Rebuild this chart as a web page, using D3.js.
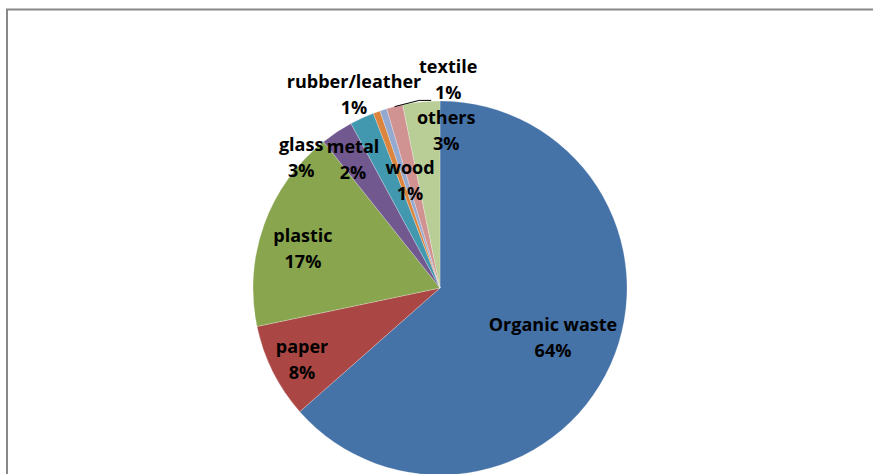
<!DOCTYPE html>
<html><head><meta charset="utf-8">
<script src="https://cdn.jsdelivr.net/npm/d3@7"></script>
<style>body{margin:0;background:#fff}svg{display:block}</style>
</head><body>
<svg id="c" width="873" height="474"></svg>
<script>
// Data
const categories = ["Organic waste","paper","plastic","glass","metal","rubber/leather","wood","textile","others"];
const values = [63.5, 8.2, 17.6, 2.8, 2.1, 0.6, 0.6, 1.4, 3.2];
const percentLabels = ["64%","8%","17%","3%","2%","1%","1%","1%","3%"];
const colors = ["#4572A7","#AA4643","#89A54E","#71588F","#4198AF","#DB843D","#93A9CF","#D19392","#B9CD96"];

// Label layout: [radius factor, angle offset in degrees]
const labelLayout = [[0.661,-0.4],[0.833,-1.0],[0.762,-3.9],[1.019,-13.3],[0.828,-9.5],[1.13,-4.2],[0.594,2],[1.111,16.3],[0.840,8.0]];

const svg = d3.select("#c");
const W = 873, H = 474;
const cx = 440, cy = 288, R = 187;

// frame
svg.append("path").attr("d", `M7,${H} L7,9.5 L${W},9.5`).attr("fill","none").attr("stroke","#888").attr("stroke-width",2);

const pie = d3.pie().sort(null).value(d => d);
const arcs = pie(values);
const arc = d3.arc().innerRadius(0).outerRadius(R);

const g = svg.append("g").attr("transform", `translate(${cx},${cy})`);
g.selectAll("path.slice").data(arcs).enter().append("path")
  .attr("class","slice").attr("d", arc)
  .attr("fill", (d,i) => colors[i])
  .attr("stroke","#ffffff").attr("stroke-width",0.4).attr("stroke-opacity",0.6);

function polar(r, a){ return [r*Math.sin(a), -r*Math.cos(a)]; }

const fontFamily = "'Open Sans', sans-serif";
const fs = 18;
const lh = 26;

arcs.forEach((d,i) => {
  const mid = (d.startAngle + d.endAngle)/2;
  const [rf, off] = labelLayout[i];
  const [x, y] = polar(R*rf, mid + off*Math.PI/180);
  const t = g.append("text").attr("text-anchor","middle")
    .attr("font-family", fontFamily).attr("font-weight","bold").attr("font-size", fs)
    .attr("fill","#000");
  t.append("tspan").attr("x", x).attr("y", y - lh/2 + 6).text(categories[i]);
  t.append("tspan").attr("x", x).attr("y", y + lh/2 + 6).text(percentLabels[i]);
  if (categories[i] === "textile") {
    const [sx, sy] = polar(R, mid);
    const ex = x - 17, ey = y + 20;
    g.append("polyline")
      .attr("points", `${sx},${sy} ${ex-12},${ey} ${ex},${ey}`)
      .attr("fill","none").attr("stroke","#000").attr("stroke-width",1);
  }
});
</script>
</body></html>
